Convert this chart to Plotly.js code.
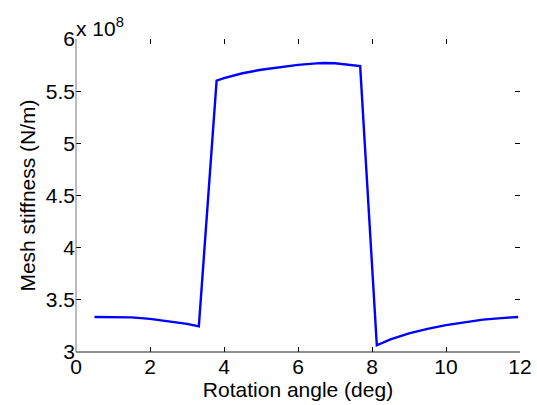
<!DOCTYPE html>
<html>
<head>
<meta charset="utf-8">
<script src="https://cdn.plot.ly/plotly-3.0.1.min.js"></script>
<style>
  html, body { margin: 0; padding: 0; background: #fff; }
  #chart { width: 537px; height: 405px; }
</style>
</head>
<body>
<div id="chart"></div>
<script>
// Gear mesh stiffness over one mesh period (stiffness in units of 1e8 N/m)
const rotationAngle = [
  0.5, 1.0, 1.5, 2.0, 2.5, 3.0, 3.32,
  3.80, 4.0, 4.5, 5.0, 5.5, 6.0, 6.5, 6.7, 7.0, 7.5, 7.68,
  8.13, 8.5, 9.0, 9.5, 10.0, 10.5, 11.0, 11.5, 11.95
];
const stiffness_1e8 = [
  3.336, 3.336, 3.332, 3.318, 3.296, 3.270, 3.246,
  5.600, 5.625, 5.672, 5.705, 5.732, 5.752, 5.766, 5.770, 5.768, 5.752, 5.740,
  3.064, 3.120, 3.178, 3.222, 3.258, 3.287, 3.310, 3.325, 3.336
];

const xTicks = [0, 2, 4, 6, 8, 10, 12];
const yTicks = [3, 3.5, 4, 4.5, 5, 5.5, 6];

const tickFont = { family: 'Liberation Sans, Arial, sans-serif', size: 21, color: '#000' };
const titleFont = { family: 'Liberation Sans, Arial, sans-serif', size: 21, color: '#000' };

const trace = {
  x: rotationAngle,
  y: stiffness_1e8,
  type: 'scatter',
  mode: 'lines',
  line: { color: '#0000ff', width: 2.4 },
  hoverinfo: 'skip'
};

const layout = {
  width: 537,
  height: 405,
  margin: { l: 76, r: 17, t: 39, b: 53 },
  paper_bgcolor: '#fff',
  plot_bgcolor: '#fff',
  showlegend: false,
  font: tickFont,
  xaxis: {
    range: [0, 12],
    tickvals: xTicks,
    ticktext: xTicks.map(String),
    ticks: 'inside',
    ticklen: 5,
    tickcolor: '#000',
    tickwidth: 1,
    showline: false,
    mirror: 'ticks',
    showgrid: false,
    zeroline: false,
    tickfont: tickFont,
    title: { text: 'Rotation angle (deg)', font: titleFont, standoff: 2 }
  },
  yaxis: {
    range: [3, 6],
    tickvals: yTicks,
    ticktext: yTicks.map(String),
    ticks: 'inside',
    ticklen: 5,
    tickcolor: '#000',
    tickwidth: 1,
    showline: false,
    mirror: 'ticks',
    showgrid: false,
    zeroline: false,
    tickfont: tickFont,
    title: { text: 'Mesh stiffness (N/m)', font: titleFont, standoff: 4 }
  },
  shapes: [
    { type: 'line', xref: 'paper', yref: 'paper', x0: 0, x1: 0, y0: 0, y1: 1,
      line: { color: '#777', width: 1 } },
    { type: 'line', xref: 'paper', yref: 'paper', x0: 0, x1: 1, y0: 0, y1: 0,
      line: { color: '#222', width: 1 } }
  ],
  annotations: [
    { xref: 'paper', yref: 'paper', x: 0, y: 1, xanchor: 'left', yanchor: 'bottom',
      xshift: -2, yshift: -3, showarrow: false,
      text: 'x 10<sup>8</sup>', font: tickFont }
  ]
};

Plotly.newPlot('chart', [trace], layout, { staticPlot: true, displayModeBar: false });
</script>
</body>
</html>
